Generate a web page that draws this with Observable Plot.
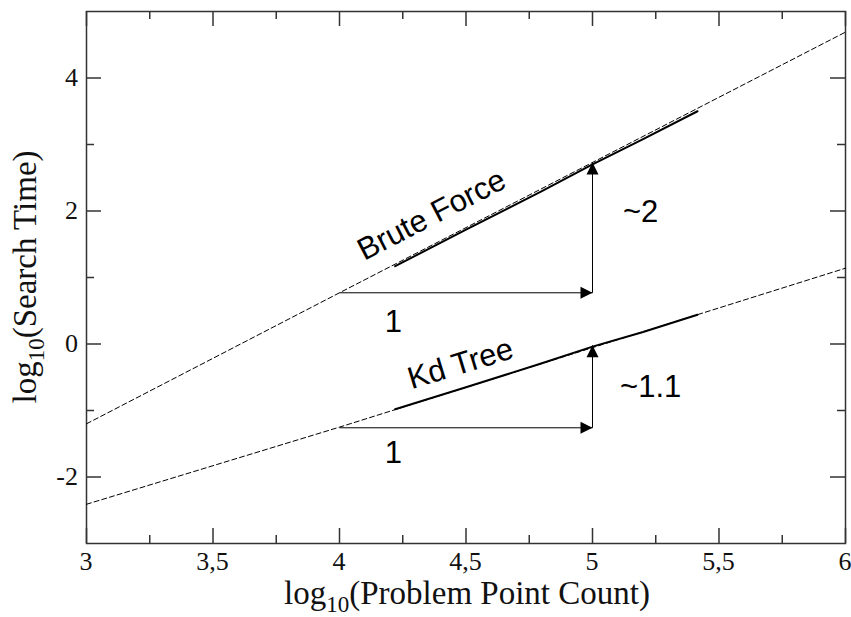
<!DOCTYPE html>
<html><head><meta charset="utf-8">
<script src="https://cdn.jsdelivr.net/npm/d3@7"></script>
<script src="https://cdn.jsdelivr.net/npm/@observablehq/plot@0.6"></script>
<style>body{margin:0;background:#fff}#chart{position:relative;width:851px;height:617px}</style>
</head><body><div id="chart"></div><script>
// Tick values
const xMajor = [3, 3.5, 4, 4.5, 5, 5.5, 6];
const xMinor = [3.25, 3.75, 4.25, 4.75, 5.25, 5.75];
const yMajor = [-2, 0, 2, 4];
const yMinor = [-1, 1, 3];
const xTickLabels = ["3", "3,5", "4", "4,5", "5", "5,5", "6"];
const yTickLabels = ["-2", "0", "2", "4"];

// Dashed fitted lines (log10 N, log10 time)
const bruteFitX = [3, 4, 6];
const bruteFitY = [-1.20, 0.77, 4.69];
const kdFitX = [3, 4, 6];
const kdFitY = [-2.41, -1.25, 1.14];

// Solid measured curves
const bruteX = [4.22, 4.5, 4.8, 5.0, 5.2, 5.415];
const bruteY = [1.17, 1.72, 2.30, 2.70, 3.08, 3.50];
const kdX = [4.22, 4.5, 4.8, 5.0, 5.2, 5.415];
const kdY = [-0.98, -0.65, -0.29, -0.04, 0.18, 0.44];

// Slope triangles
const triRunStart = [4, 4];
const triRunEnd = [5, 5];
const triBase = [0.77, -1.26];
const triTop = [2.73, -0.02];

// Annotations
const labelText = ["Brute Force", "Kd Tree", "~2", "~1.1", "1", "1"];
const labelX = [4.364, 4.478, 5.19, 5.23, 4.213, 4.213];
const labelY = [1.94, -0.30, 1.985, -0.65, 0.33, -1.64];
const labelRotate = [-27.3, -17, 0, 0, 0, 0];

const serif = "'Liberation Serif','Times New Roman',serif";
const sans = "'Liberation Sans',Arial,sans-serif";

const W = 851, H = 617, mL = 86, mR = 6, mT = 11, mB = 74;
const fw = W - mL - mR, fh = H - mT - mB;
const major = 15, minor = 8;

const toRows = (xs, ys) => xs.map((x, i) => ({x, y: ys[i]}));
const bruteFit = toRows(bruteFitX, bruteFitY);
const kdFit = toRows(kdFitX, kdFitY);
const brute = toRows(bruteX, bruteY);
const kd = toRows(kdX, kdY);
const tris = triRunStart.map((x0, i) => ({x0, x1: triRunEnd[i], yb: triBase[i], yt: triTop[i]}));
const labels = labelText.map((t, i) => ({t, x: labelX[i], y: labelY[i], r: labelRotate[i]}));

const rightHead = {draw(c) { c.moveTo(0, 0); c.lineTo(-12, -6); c.lineTo(-12, 6); c.closePath(); }};
const upHead = {draw(c) { c.moveTo(0, 0); c.lineTo(-6, 12); c.lineTo(6, 12); c.closePath(); }};

const tk = {stroke: "#333", strokeWidth: 1.5};

const chart = Plot.plot({
  width: W, height: H,
  marginLeft: mL, marginRight: mR, marginTop: mT, marginBottom: mB,
  x: {domain: [3, 6], axis: null},
  y: {domain: [-3, 5], axis: null},
  marks: [
    // inward ticks on all four sides
    Plot.ruleX(xMajor, {...tk, x: d => d, insetTop: fh - major}),
    Plot.ruleX(xMinor, {...tk, x: d => d, insetTop: fh - minor}),
    Plot.ruleX(xMajor, {...tk, x: d => d, insetBottom: fh - major}),
    Plot.ruleX(xMinor, {...tk, x: d => d, insetBottom: fh - minor}),
    Plot.ruleY(yMajor, {...tk, y: d => d, insetRight: fw - major}),
    Plot.ruleY(yMinor, {...tk, y: d => d, insetRight: fw - minor}),
    Plot.ruleY(yMajor, {...tk, y: d => d, insetLeft: fw - major}),
    Plot.ruleY(yMinor, {...tk, y: d => d, insetLeft: fw - minor}),
    Plot.frame({stroke: "#333", strokeWidth: 1.5}),
    // dashed fits
    Plot.line(bruteFit, {x: "x", y: "y", stroke: "black", strokeWidth: 1, strokeDasharray: "5,3"}),
    Plot.line(kdFit, {x: "x", y: "y", stroke: "black", strokeWidth: 1, strokeDasharray: "5,3"}),
    // solid curves
    Plot.line(brute, {x: "x", y: "y", stroke: "black", strokeWidth: 2}),
    Plot.line(kd, {x: "x", y: "y", stroke: "black", strokeWidth: 2}),
    // slope triangles
    Plot.link(tris, {x1: "x0", x2: "x1", y1: "yb", y2: "yb", stroke: "black", strokeWidth: 1}),
    Plot.link(tris, {x1: "x1", x2: "x1", y1: "yb", y2: "yt", stroke: "black", strokeWidth: 1}),
    Plot.dot(tris, {x: "x1", y: "yb", symbol: rightHead, fill: "black", stroke: null}),
    Plot.dot(tris, {x: "x1", y: "yt", symbol: upHead, fill: "black", stroke: null}),
    // annotations
    Plot.text(labels, {x: "x", y: "y", text: "t", rotate: "r", fontSize: 31, fontFamily: sans, fill: "black"})
  ]
});

const svg = d3.select(chart);
const sx = chart.scale("x"), sy = chart.scale("y");

// tick labels, positioned through Plot's own scales
const gx = svg.append("g").attr("font-family", serif).attr("font-size", 26).attr("fill", "#111")
  .attr("text-anchor", "middle");
xMajor.forEach((v, i) => {
  gx.append("text").attr("x", sx.apply(v)).attr("y", H - mB + 27).text(xTickLabels[i]);
});
const gy = svg.append("g").attr("font-family", serif).attr("font-size", 26).attr("fill", "#111")
  .attr("text-anchor", "end");
yMajor.forEach((v, i) => {
  gy.append("text").attr("x", mL - 8).attr("y", sy.apply(v)).attr("dy", "0.34em").text(yTickLabels[i]);
});

const xt = svg.append("text")
  .attr("x", 467).attr("y", 604)
  .attr("text-anchor", "middle")
  .attr("font-family", serif).attr("font-size", 33).attr("fill", "#111");
xt.append("tspan").text("log");
xt.append("tspan").attr("font-size", 23).attr("dy", 8).text("10");
xt.append("tspan").attr("dy", -8).text("(Problem Point Count)");

const yt = svg.append("text")
  .attr("transform", "translate(36,277) rotate(-90)")
  .attr("text-anchor", "middle")
  .attr("font-family", serif).attr("font-size", 33).attr("fill", "#111");
yt.append("tspan").text("log");
yt.append("tspan").attr("font-size", 23).attr("dy", 8).text("10");
yt.append("tspan").attr("dy", -8).text("(Search Time)");

document.getElementById("chart").appendChild(chart);
</script></body></html>
